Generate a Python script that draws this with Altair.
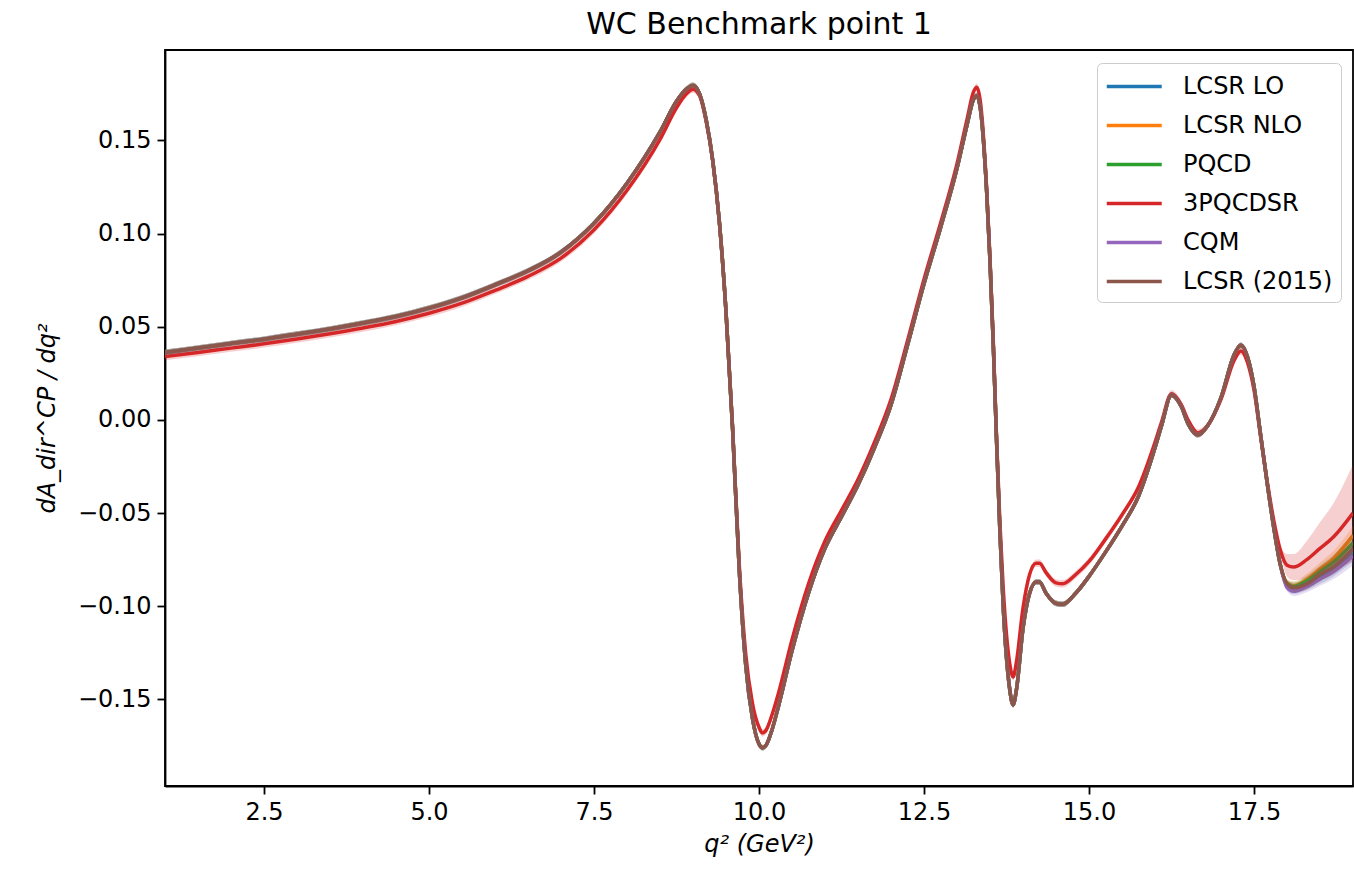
import altair as alt
import pandas as pd

# ---------------- data ----------------
q2 = [1.0, 1.5, 2.0, 2.5, 3.0, 3.5, 4.0, 4.5, 5.0, 5.5, 6.0, 6.5, 7.0, 7.5, 8.0,
      8.5, 8.75, 8.9, 9.0, 9.1, 9.2, 9.3, 9.4, 9.5, 9.6, 9.7, 9.8, 9.9, 10.0,
      10.05, 10.1, 10.2, 10.3, 10.5, 10.75, 11.0, 11.25, 11.5, 11.75, 12.0,
      12.25, 12.5, 12.75, 13.0, 13.15, 13.25, 13.3, 13.35, 13.45, 13.5, 13.55,
      13.6, 13.65, 13.7, 13.8, 13.85, 13.9, 14.0, 14.1, 14.2, 14.25, 14.35,
      14.5, 14.6, 14.8, 15.0, 15.25, 15.5, 15.75, 16.0, 16.1, 16.25, 16.4,
      16.5, 16.65, 16.8, 17.0, 17.2, 17.3, 17.4, 17.5, 17.6, 17.7, 17.8, 17.9,
      18.0, 18.1, 18.3, 18.5, 18.7, 19.0]

# curve shared (visually identical) by LCSR LO, LCSR NLO, PQCD, CQM, LCSR (2015) up to q2 = 17.9
common_curve = [0.0362, 0.0386, 0.0410, 0.0433, 0.0460, 0.0488, 0.0520, 0.0555,
                0.0600, 0.0655, 0.0725, 0.0800, 0.0900, 0.1055, 0.1270, 0.1545,
                0.1710, 0.1775, 0.1795, 0.1750, 0.1610, 0.1390, 0.1060, 0.0580,
                -0.0050, -0.0800, -0.1320, -0.1600, -0.1740, -0.1760, -0.1750,
                -0.1660, -0.1530, -0.1240, -0.0930, -0.0690, -0.0520, -0.0350,
                -0.0150, 0.0080, 0.0400, 0.0730, 0.1030, 0.1350, 0.1580, 0.1720,
                0.1740, 0.1680, 0.1220, 0.0850, 0.0400, -0.0120, -0.0600, -0.1000,
                -0.1450, -0.1530, -0.1450, -0.1120, -0.0930, -0.0870, -0.0870,
                -0.0930, -0.0985, -0.0990, -0.0930, -0.0840, -0.0710, -0.0570,
                -0.0410, -0.0150, -0.0030, 0.0134, 0.0070, -0.0020, -0.0080,
                -0.0030, 0.0120, 0.0350, 0.0400, 0.0340, 0.0180, -0.0080, -0.0340,
                -0.0580, -0.0780]

# tails for q2 = 18.0 ... 19.0 where the curves separate
tail_lcsr_lo = [-0.0890, -0.0910, -0.0885, -0.0845, -0.0800, -0.0710]
tail_lcsr_nlo = [-0.0875, -0.0890, -0.0855, -0.0800, -0.0745, -0.0620]
tail_pqcd = [-0.0880, -0.0895, -0.0865, -0.0815, -0.0765, -0.0660]
tail_cqm = [-0.0900, -0.0920, -0.0895, -0.0855, -0.0815, -0.0730]
tail_lcsr_2015 = [-0.0880, -0.0900, -0.0880, -0.0830, -0.0790, -0.0690]

pqcdsr3 = [0.0340, 0.0362, 0.0385, 0.0408, 0.0434, 0.0462, 0.0493, 0.0528,
           0.0572, 0.0626, 0.0695, 0.0770, 0.0868, 0.1020, 0.1232, 0.1505,
           0.1675, 0.1750, 0.1775, 0.1740, 0.1600, 0.1385, 0.1060, 0.0585,
           -0.0040, -0.0770, -0.1260, -0.1520, -0.1650, -0.1680, -0.1670,
           -0.1580, -0.1460, -0.1180, -0.0880, -0.0650, -0.0485, -0.0320,
           -0.0120, 0.0110, 0.0425, 0.0755, 0.1055, 0.1375, 0.1610, 0.1760,
           0.1785, 0.1720, 0.1240, 0.0870, 0.0420, -0.0100, -0.0550, -0.0900,
           -0.1310, -0.1380, -0.1300, -0.1010, -0.0830, -0.0770, -0.0770,
           -0.0820, -0.0875, -0.0880, -0.0830, -0.0760, -0.0640, -0.0510,
           -0.0360, -0.0120, -0.0010, 0.0140, 0.0080, 0.0000, -0.0070,
           -0.0030, 0.0110, 0.0320, 0.0370, 0.0310, 0.0160, -0.0090, -0.0330,
           -0.0540, -0.0700, -0.0780, -0.0790, -0.0750, -0.0690, -0.0630,
           -0.0500]

# uncertainty half-widths (bands)
err_common = [0.0015] * 85 + [0.0020, 0.0025, 0.0030, 0.0035, 0.0040, 0.0050]
err_pqcdsr3 = [0.0020] * 85 + [0.0060, 0.0070, 0.0100, 0.0140, 0.0180, 0.0260]

series_names = ["LCSR LO", "LCSR NLO", "PQCD", "3PQCDSR", "CQM", "LCSR (2015)"]
series_colors = ["#1f77b4", "#ff7f0e", "#2ca02c", "#d62728", "#9467bd", "#8c564b"]

series_values = {
    "LCSR LO": common_curve + tail_lcsr_lo,
    "LCSR NLO": common_curve + tail_lcsr_nlo,
    "PQCD": common_curve + tail_pqcd,
    "3PQCDSR": pqcdsr3,
    "CQM": common_curve + tail_cqm,
    "LCSR (2015)": common_curve + tail_lcsr_2015,
}
series_err = {n: (err_pqcdsr3 if n == "3PQCDSR" else err_common) for n in series_names}

# ---------------- chart ----------------
FONT = "DejaVu Sans"
color_scale = alt.Scale(domain=series_names, range=series_colors)
x_enc = alt.X("q2:Q",
              scale=alt.Scale(domain=[1.0, 19.0], nice=False, zero=False),
              axis=alt.Axis(values=[2.5, 5.0, 7.5, 10.0, 12.5, 15.0, 17.5], format=".1f",
                            title="q² (GeV²)", titleFontStyle="italic"))
y_scale = alt.Scale(domain=[-0.1965, 0.1985], nice=False, zero=False)
y_axis = alt.Axis(values=[-0.15, -0.10, -0.05, 0.0, 0.05, 0.10, 0.15], format=".2f",
                  title="dA_dir^CP / dq²", titleFontStyle="italic")

layers = []
for name in series_names:
    vals = series_values[name]
    errs = series_err[name]
    assert len(vals) == len(q2) and len(errs) == len(q2)
    df = pd.DataFrame({
        "q2": q2,
        "value": vals,
        "lo": [v - e for v, e in zip(vals, errs)],
        "hi": [v + e for v, e in zip(vals, errs)],
        "series": name,
    })
    band = alt.Chart(df).mark_area(opacity=0.22, clip=True, interpolate="monotone").encode(
        x=x_enc,
        y=alt.Y("lo:Q", scale=y_scale, axis=y_axis),
        y2="hi:Q",
        fill=alt.Fill("series:N", scale=color_scale, legend=None),
    )
    line = alt.Chart(df).mark_line(strokeWidth=3.5, clip=True, interpolate="monotone").encode(
        x=x_enc,
        y=alt.Y("value:Q", scale=y_scale, axis=y_axis),
        color=alt.Color("series:N", scale=color_scale,
                        legend=alt.Legend(title=None, orient="none", legendX=932, legendY=13,
                                          symbolType="M-1,0H3", symbolSize=756,
                                          symbolStrokeWidth=3.5, labelFontSize=24,
                                          labelOffset=47, rowPadding=11, padding=8,
                                          strokeColor="#cccccc", cornerRadius=5,
                                          fillColor="white", labelLimit=0,
                                          labelColor="black", labelFont=FONT)),
    )
    layers += [band, line]

chart = alt.layer(*layers).resolve_scale(fill="independent").properties(
    width=1188,
    height=736,
    padding={"left": 165, "top": 50, "right": 1, "bottom": 90},
    autosize=alt.AutoSizeParams(type="none"),
    title=alt.Title("WC Benchmark point 1", fontSize=30, fontWeight="normal",
                    font=FONT, color="black", anchor="middle", offset=10),
).configure(background="white", font=FONT).configure_view(
    stroke="black", strokeWidth=1.8
).configure_axis(
    labelFont=FONT, titleFont=FONT, labelFontSize=24, titleFontSize=24,
    labelColor="black", titleColor="black", titleFontWeight="normal",
    domainColor="black", domainWidth=1.8, tickColor="black", tickWidth=1.8,
    tickSize=8, labelPadding=6, grid=False,
).configure_axisX(titlePadding=8).configure_axisY(titlePadding=18)

chart.save("out.html", embed_options={"renderer": "svg", "actions": False})
